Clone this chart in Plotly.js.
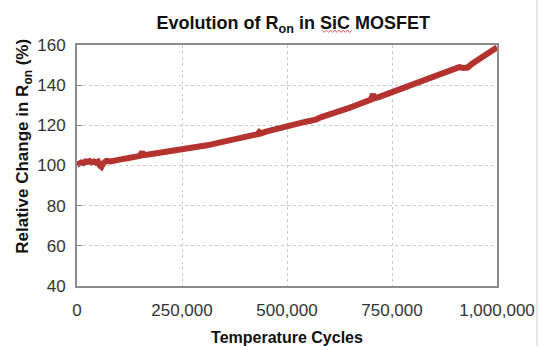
<!DOCTYPE html>
<html><head><meta charset="utf-8">
<script src="https://cdn.plot.ly/plotly-3.0.1.min.js"></script>
<style>html,body{margin:0;padding:0;background:#fff;}#chart{width:543px;height:346px;}</style>
</head><body><div id="chart"></div>
<script>
const cyclesK = [0,5,10,15,20,25,30,35,40,45,50,55,58,62,70,80,90,100,110,120,130,140,150,155,158,170,180,190,200,210,220,230,240,250,258,262,270,280,290,300,310,320,330,340,350,360,370,380,390,400,410,420,430,434,438,450,460,470,480,490,500,510,520,530,540,550,560,565,570,580,590,600,610,620,630,640,650,660,670,680,690,700,705,708,720,730,740,750,760,770,780,790,800,810,820,830,840,850,860,870,880,890,900,910,920,930,940,950,960,970,980,990,1000];
const ronPct = [100.3,101.0,101.5,101.2,102.0,101.8,102.2,101.6,102.0,101.4,101.9,99.8,99.3,101.0,102.3,102.0,102.6,103.0,103.3,103.6,104.0,104.4,104.8,106.8,105.2,105.5,105.8,106.1,106.4,106.6,106.9,107.1,107.4,107.7,108.6,108.0,108.3,108.7,109.2,109.8,110.1,110.5,110.9,111.3,111.8,112.2,112.7,113.3,113.8,114.3,114.8,115.2,115.6,116.6,116.0,116.9,117.5,118.0,118.6,119.1,119.6,120.2,120.8,121.3,121.6,122.0,122.4,123.2,123.0,124.0,124.6,125.2,125.7,126.3,127.2,128.0,128.8,129.6,130.3,131.2,132.0,132.8,135.5,133.5,134.2,135.0,135.8,136.6,137.0,137.8,138.6,139.5,140.2,141.0,141.8,142.6,143.4,144.0,144.8,145.6,146.5,147.4,148.2,149.0,148.6,148.8,150.6,152.0,153.2,154.4,155.8,157.2,158.8];
const cycles = cyclesK.map(v => v * 1000);
const xTicks = [0,250000,500000,750000,1000000];
const xTickText = ['0','250,000','500,000','750,000','1,000,000'];
const yTicks = [40,60,80,100,120,140,160];

// red spell-check squiggle under "SiC" (decoration)
let sq = 'M0.584,1.062';
for (let i = 1; i <= 14; i++) {
  sq += ' L' + (0.584 + i * 0.005).toFixed(4) + ',' + (i % 2 ? 1.052 : 1.062);
}

const trace = {
  x: cycles, y: ronPct, type: 'scatter', mode: 'lines',
  line: {color: '#b5332f', width: 6},
  hoverinfo: 'skip'
};
const layout = {
  width: 543, height: 346,
  margin: {l: 77, r: 46, t: 45, b: 60},
  paper_bgcolor: '#fff', plot_bgcolor: '#fff',
  showlegend: false,
  font: {family: 'Liberation Sans, Arial, sans-serif', color: '#333'},
  title: {text: '<b>Evolution of R<sub>on</sub> in SiC MOSFET</b>', x: 0.54, xanchor: 'center', y: 0.935, yanchor: 'middle', font: {size: 18, color: '#111'}},
  xaxis: {
    range: [0, 1000000], tickvals: xTicks, ticktext: xTickText,
    showgrid: true, gridcolor: '#cccccc', griddash: 'dot', gridwidth: 1,
    showline: true, linecolor: '#8c8c8c', linewidth: 2, mirror: true,
    ticks: '', zeroline: false, tickfont: {size: 17, color: '#333'}, ticklabelstandoff: 8,
    title: {text: '<b>Temperature Cycles</b>', font: {size: 16, color: '#111'}, standoff: 14}
  },
  yaxis: {
    range: [40, 160], tickvals: yTicks,
    showgrid: true, gridcolor: '#cccccc', griddash: 'dot', gridwidth: 1,
    showline: true, linecolor: '#8c8c8c', linewidth: 2, mirror: true,
    ticks: 'inside', ticklen: 5, tickcolor: '#8c8c8c', zeroline: false,
    tickfont: {size: 17, color: '#333'}, ticklabelstandoff: 6
  },
  annotations: [{
    text: '<b>Relative Change in R<sub>on</sub> (%)</b>', textangle: -90,
    xref: 'paper', yref: 'paper', x: -0.125, y: 0.58, xanchor: 'center', yanchor: 'middle',
    showarrow: false, font: {size: 17, color: '#111'}
  }],
  shapes: [
    {type: 'line', xref: 'paper', yref: 'paper', x0: 1.0952, x1: 1.0952, y0: -0.25, y1: 1.19, line: {color: '#d0d0d0', width: 1}},
    {type: 'path', xref: 'paper', yref: 'paper', path: sq, line: {color: '#e06060', width: 1}}
  ]
};
Plotly.newPlot('chart', [trace], layout, {displayModeBar: false, staticPlot: true});
</script></body></html>
